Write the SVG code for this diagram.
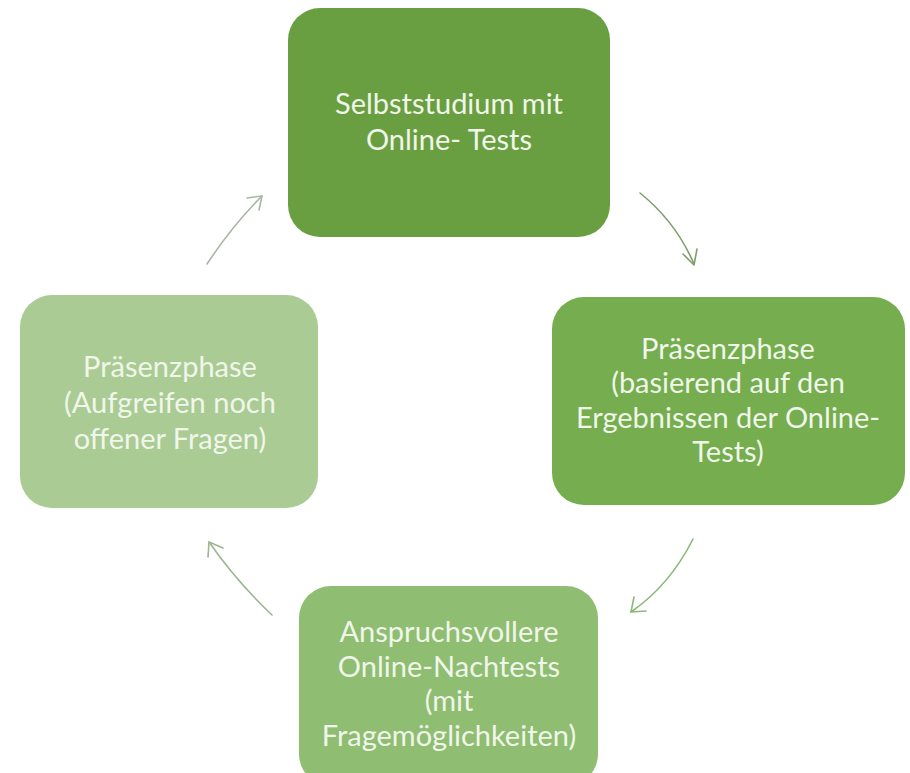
<svg xmlns="http://www.w3.org/2000/svg" width="910" height="773" viewBox="0 0 910 773">
  <style>
    .box { stroke: none; }
    .lbl { font-family: Lato, "Open Sans", "Liberation Sans", sans-serif; font-size: 29px; fill: #f0f6ea; text-anchor: middle; }
    .arrow { fill: none; stroke-width: 1.6; stroke-linecap: round; stroke-linejoin: round; }
  </style>
  <rect width="910" height="773" fill="#ffffff"/>

  <g id="node-selbststudium">
    <rect class="box" x="288" y="8" width="322" height="229" rx="32" fill="#6a9f41"/>
    <text class="lbl" x="449" y="114">Selbststudium mit</text>
    <text class="lbl" x="449" y="150">Online- Tests</text>
  </g>

  <g id="node-praesenz-ergebnisse">
    <rect class="box" x="552" y="297" width="353" height="208" rx="32" fill="#75ad4f"/>
    <text class="lbl" x="728" y="359">Präsenzphase</text>
    <text class="lbl" x="728" y="393">(basierend auf den</text>
    <text class="lbl" x="728" y="428">Ergebnissen der Online-</text>
    <text class="lbl" x="728" y="462">Tests)</text>
  </g>

  <g id="node-nachtests">
    <rect class="box" x="299" y="586" width="299" height="200" rx="32" fill="#8fbd71"/>
    <text class="lbl" x="449" y="642">Anspruchsvollere</text>
    <text class="lbl" x="449" y="677">Online-Nachtests</text>
    <text class="lbl" x="449" y="711">(mit</text>
    <text class="lbl" x="449" y="746">Fragemöglichkeiten)</text>
  </g>

  <g id="node-praesenz-fragen">
    <rect class="box" x="20" y="295" width="298" height="213" rx="32" fill="#aacb94"/>
    <text class="lbl" x="170" y="377">Präsenzphase</text>
    <text class="lbl" x="170" y="413">(Aufgreifen noch</text>
    <text class="lbl" x="170" y="449">offener Fragen)</text>
  </g>

  <g id="connectors">
    <!-- left box up to top box -->
    <path class="arrow" stroke="#aab5a6" d="M207,264 Q232,226 262,196"/>
    <path class="arrow" stroke="#aab5a6" d="M247,198 L262,196 L259,210"/>
    <!-- top box down to right box -->
    <path class="arrow" stroke="#7e9e6c" d="M640,193 Q676,222 694,264"/>
    <path class="arrow" stroke="#7e9e6c" d="M683,254 L694,265 L697,249"/>
    <!-- right box down to bottom box -->
    <path class="arrow" stroke="#8bb979" d="M693,539 Q670,585 631,612"/>
    <path class="arrow" stroke="#8bb979" d="M634,597 L631,612 L646,611"/>
    <!-- bottom box up to left box -->
    <path class="arrow" stroke="#9db690" d="M272,615 Q237,582 209,542"/>
    <path class="arrow" stroke="#9db690" d="M208,557 L209,542 L223,548"/>
  </g>
</svg>
